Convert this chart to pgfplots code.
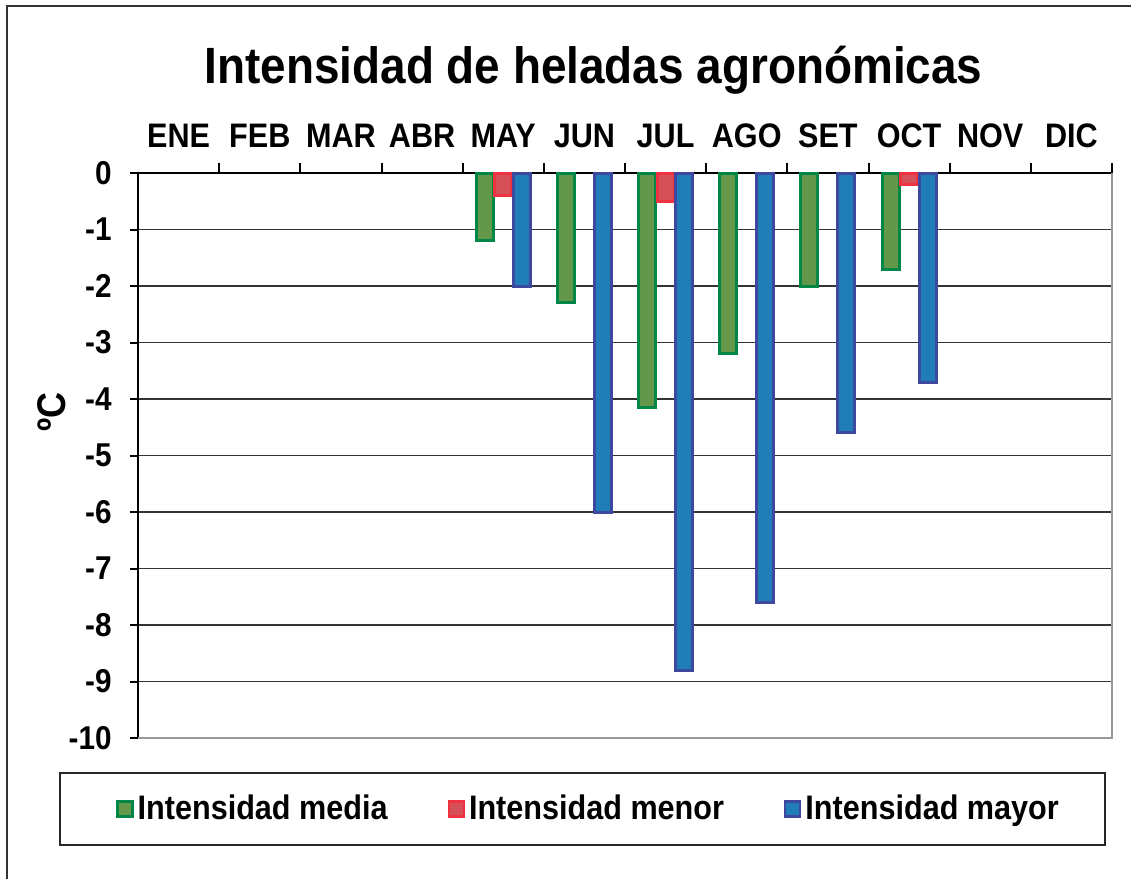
\documentclass[border=0pt]{standalone}
\usepackage{fontspec}
\setmainfont{Liberation Sans}[FakeStretch=0.9]
\usepackage{pgfplots}
\pgfplotsset{compat=1.18}
\definecolor{gfill}{RGB}{99,152,74}
\definecolor{gdraw}{RGB}{0,135,72}
\definecolor{rfill}{RGB}{214,80,90}
\definecolor{rdraw}{RGB}{238,50,64}
\definecolor{bfill}{RGB}{31,126,183}
\definecolor{bdraw}{RGB}{62,72,160}
\begin{document}
\begin{tikzpicture}[font=\bfseries]
\useasboundingbox (0,0) rectangle (565.5pt,-439.5pt);
\draw[black!80, line width=1pt] (3.5pt,-439.5pt) -- (3.5pt,-3pt) -- (565.5pt,-3pt);
\node[anchor=base] at (296.75pt,-41.5pt) {\fontsize{25.5}{30}\selectfont Intensidad de heladas agronómicas};
\node[rotate=90] at (26pt,-206pt) {\fontsize{20}{24}\selectfont ºC};
\draw[black!85, line width=0.8pt] (30pt,-386.5pt) rectangle (552.5pt,-422.5pt);
\begin{axis}[
  at={(69pt,-86.5pt)}, anchor=north west,
  width=487pt, height=282.5pt, scale only axis,
  xmin=0.5, xmax=12.5, ymin=-10, ymax=0,
  axis x line*=top, axis y line*=left,
  x axis line style={line width=1.3pt, black},
  y axis line style={line width=1pt, black},
  xtick={1,...,12},
  xticklabels={ENE,FEB,MAR,ABR,MAY,JUN,JUL,AGO,SET,OCT,NOV,DIC},
  major x tick style={draw=none},
  minor xtick={1.5,2.5,...,12.5},
  minor tick length=5pt,
  xtick align=inside,
  ytick align=outside,
  major tick length=4pt,
  ytick={-10,-9,...,0},
  ytick style={black, line width=1pt},
  minor x tick style={black, line width=1pt},
  xticklabel style={font=\fontsize{17}{20}\selectfont\bfseries, anchor=base, yshift=9pt},
  yticklabel style={font=\fontsize{16.5}{20}\selectfont\bfseries, anchor=east, inner sep=0pt, xshift=-9pt},
  /pgf/number format/assume math mode=true,
  ymajorgrids,
  major grid style={black!80, line width=0.9pt},
  ybar, bar width=8.5pt,
  clip=false,
  legend columns=3,
  legend style={at={(0.4636,-0.1257)}, anchor=center, draw=none, fill=none,
    font=\fontsize{17}{20}\selectfont\bfseries,
    nodes={inner xsep=2pt},
    /tikz/every even column/.append style={column sep=28pt}},
  legend image code/.code={\draw[#1, line width=1.2pt] (0pt,-3.75pt) rectangle (7.5pt,3.75pt);},
]
\addplot[fill=gfill, draw=gdraw, line width=1.5pt, bar shift=-9.25pt]
  coordinates {(5,-1.2) (6,-2.3) (7,-4.15) (8,-3.2) (9,-2.0) (10,-1.7)};
\addlegendentry{Intensidad media}
\addplot[fill=rfill, draw=rdraw, line width=1.5pt, bar shift=0pt]
  coordinates {(5,-0.4) (7,-0.5) (10,-0.2)};
\addlegendentry{Intensidad menor}
\addplot[fill=bfill, draw=bdraw, line width=1.5pt, bar shift=9.25pt]
  coordinates {(5,-2.0) (6,-6.0) (7,-8.8) (8,-7.6) (9,-4.6) (10,-3.7)};
\addlegendentry{Intensidad mayor}
\draw[black!40, line width=1pt] (rel axis cs:0,0) -- (rel axis cs:1,0) -- (rel axis cs:1,1);
\end{axis}
\end{tikzpicture}
\end{document}
